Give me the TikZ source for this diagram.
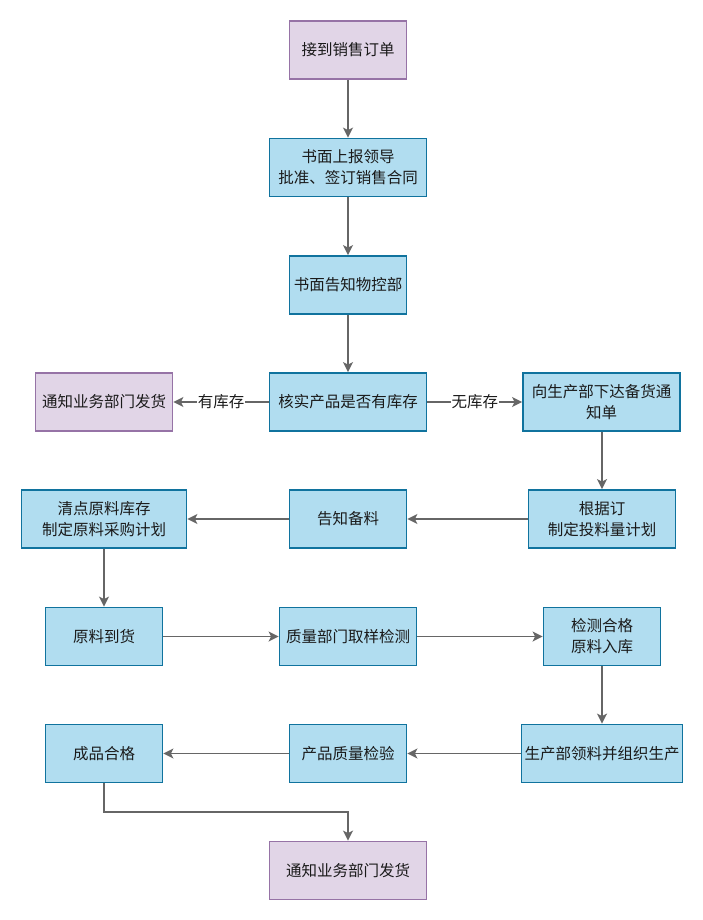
\documentclass[tikz,border=0pt]{standalone}
\usepackage{fontspec}
\newfontfamily\cjk{Noto Sans CJK SC}
\usetikzlibrary{arrows.meta}
\definecolor{bfill}{HTML}{B1DDF0}
\definecolor{bline}{HTML}{10739E}
\definecolor{pfill}{HTML}{E1D5E7}
\definecolor{pline}{HTML}{9673A6}
\definecolor{eline}{HTML}{666666}
\definecolor{tcol}{HTML}{1A1A1A}
\begin{document}
\begin{tikzpicture}[x=1pt,y=-1pt,
  box/.style={draw=bline,fill=bfill,line width=1.8pt,inner sep=0pt,align=center,
    text=tcol,font=\cjk\fontsize{15.5}{21}\selectfont},
  pbox/.style={box,draw=pline,fill=pfill},
  conn/.style={draw=eline,line width=1.8pt,-{Stealth[length=10pt,width=10pt,inset=2.5pt]}},
  lbl/.style={fill=white,inner sep=1pt,text=tcol,font=\cjk\fontsize{15.5}{18}\selectfont}]
\useasboundingbox (0,0) rectangle (703,920);
\node[pbox,minimum width=117pt,minimum height=58pt] (n1) at (348,50) {接到销售订单};
\node[box,minimum width=157pt,minimum height=58pt] (n2) at (348,167.5) {书面上报领导\\批准、签订销售合同};
\node[box,minimum width=117pt,minimum height=58pt] (n3) at (348,285) {书面告知物控部};
\node[box,minimum width=157pt,minimum height=58pt] (n4) at (348,402) {核实产品是否有库存};
\node[pbox,minimum width=137pt,minimum height=58pt] (n5) at (104,402) {通知业务部门发货};
\node[box,minimum width=157pt,minimum height=58pt] (n6) at (601.5,402) {向生产部下达备货通\\知单};
\node[box,minimum width=147pt,minimum height=58pt] (n7) at (602,519) {根据订\\制定投料量计划};
\node[box,minimum width=117pt,minimum height=58pt] (n8) at (348,519) {告知备料};
\node[box,minimum width=165pt,minimum height=58pt] (n9) at (104,519) {清点原料库存\\制定原料采购计划};
\node[box,minimum width=117pt,minimum height=58pt] (n10) at (104,636.5) {原料到货};
\node[box,minimum width=137pt,minimum height=58pt] (n11) at (348,636.5) {质量部门取样检测};
\node[box,minimum width=117pt,minimum height=58pt] (n12) at (602,636.5) {检测合格\\原料入库};
\node[box,minimum width=161pt,minimum height=58pt] (n13) at (602,753.5) {生产部领料并组织生产};
\node[box,minimum width=117pt,minimum height=58pt] (n14) at (348,753.5) {产品质量检验};
\node[box,minimum width=117pt,minimum height=58pt] (n15) at (104,753.5) {成品合格};
\node[pbox,minimum width=157pt,minimum height=58pt] (n16) at (348,870.5) {通知业务部门发货};
\draw[conn] (n1) -- (n2);
\draw[conn] (n2) -- (n3);
\draw[conn] (n3) -- (n4);
\draw[conn] (n4) -- node[lbl] {有库存} (n5);
\draw[conn] (n4) -- node[lbl] {无库存} (n6);
\draw[conn] (n6.south -| n7) -- (n7);
\draw[conn] (n7) -- (n8);
\draw[conn] (n8) -- (n9);
\draw[conn] (n9) -- (n10);
\draw[conn] (n10) -- (n11);
\draw[conn] (n11) -- (n12);
\draw[conn] (n12) -- (n13);
\draw[conn] (n13) -- (n14);
\draw[conn] (n14) -- (n15);
\coordinate (b1) at (104,812);
\coordinate (b2) at (348,812);
\draw[conn] (n15.south) -- (b1) -- (b2) -- (n16.north);
\end{tikzpicture}
\end{document}
